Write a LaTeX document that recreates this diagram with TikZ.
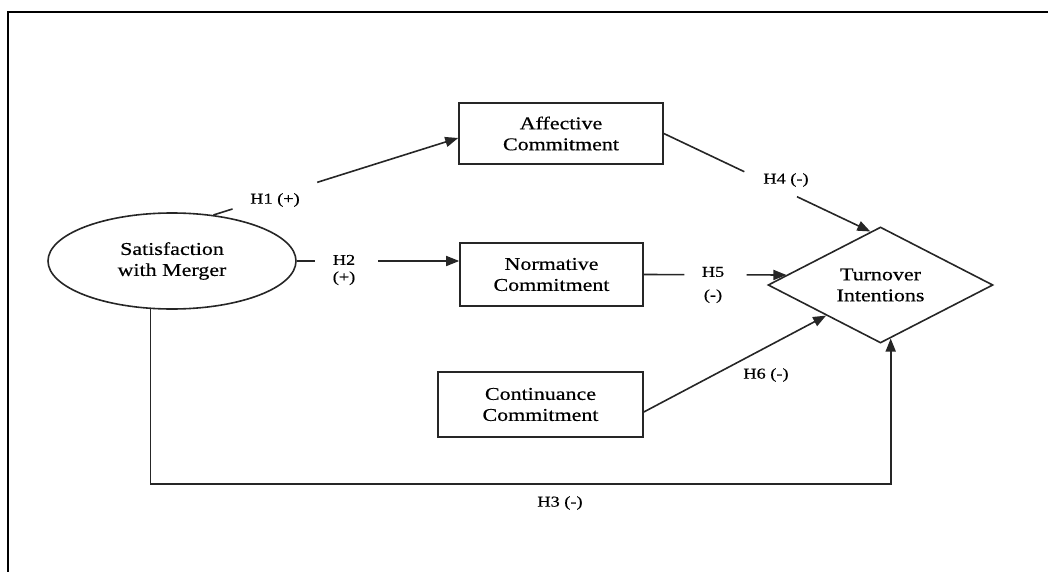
\documentclass[tikz,border=0pt]{standalone}
\usepackage{fontspec}
\setmainfont[FakeStretch=1.22,FakeBold=0.5]{Liberation Serif}
\usetikzlibrary{shapes.geometric,arrows.meta,calc}
\begin{document}
\begin{tikzpicture}[x=1pt,y=-1pt,
  box/.style={draw=black!85,line width=1.6pt,rectangle,inner sep=0pt,align=center,font=\fontsize{18}{21}\selectfont},
  lbl/.style={font=\fontsize{15}{17}\selectfont,inner sep=0pt,align=center},
  conn/.style={line width=1.6pt,draw=black!85},
  arr/.style={conn,-{Triangle[length=13pt,width=10pt]}}]
\useasboundingbox (0,0) rectangle (1048,572);
\draw[line width=2pt] (8,572) -- (8,12) -- (1048,12);
\node[box,ellipse,minimum width=248pt,minimum height=96pt] (sat) at (172,261) {Satisfaction\\with Merger};
\node[box,minimum width=204pt,minimum height=61pt] (aff) at (561,133.5) {Affective\\Commitment};
\node[box,minimum width=183pt,minimum height=63pt] (nor) at (551.5,274.5) {Normative\\Commitment};
\node[box,minimum width=205pt,minimum height=65pt] (con) at (540.5,404.5) {Continuance\\Commitment};
\node[box,diamond,shape aspect=2,minimum width=225pt,minimum height=116pt] (turn) at (880.5,285) {Turnover\\Intentions};
% H1
\coordinate (h1s) at (sat.48);
\coordinate (h1e) at ($(aff.west)+(0,4.5)$);
\draw[conn] (h1s) -- ($(h1s)!0.078!(h1e)$);
\draw[arr] ($(h1s)!0.424!(h1e)$) -- (h1e);
\node[lbl] (l1) at (275,200) {H1 (+)};
% H2
\coordinate (h2e) at (sat.east -| nor.west);
\draw[conn] (sat.east) -- ++(18,0);
\draw[arr] ($(h2e)+(-81,0)$) -- (h2e);
\node[lbl] (l2) at (344,270) {H2\\(+)};
% H4
\coordinate (h4e) at ($(turn.north)!0.09!(turn.west)$);
\draw[conn] (aff.east) -- ($(aff.east)!0.39!(h4e)$);
\draw[arr] ($(aff.east)!0.645!(h4e)$) -- (h4e);
\node[lbl] (l4) at (786,180) {H4 (-)};
% H5
\coordinate (h5e) at ($(turn.west)!0.17!(turn.north)$);
\draw[conn] (nor.east) -- ($(nor.east)!0.285!(h5e)$);
\draw[arr] ($(nor.east)!0.72!(h5e)$) -- (h5e);
\node[lbl] (l5) at (713,285) {H5\\[6pt](-)};
% H6
\coordinate (h6s) at ($(con.east)+(0,7.5)$);
\coordinate (h6e) at ($(turn.west)!0.52!(turn.south)$);
\draw[arr] (h6s) -- (h6e);
\node[lbl] (l6) at (766,375) {H6 (-)};
% H3
\coordinate (h3e) at ($(turn.south)!0.09!(turn.east)$);
\draw[arr] (sat.-114) -- ++(0,175) -| (h3e);
\node[lbl] (l3) at (560,503) {H3 (-)};
\end{tikzpicture}
\end{document}
